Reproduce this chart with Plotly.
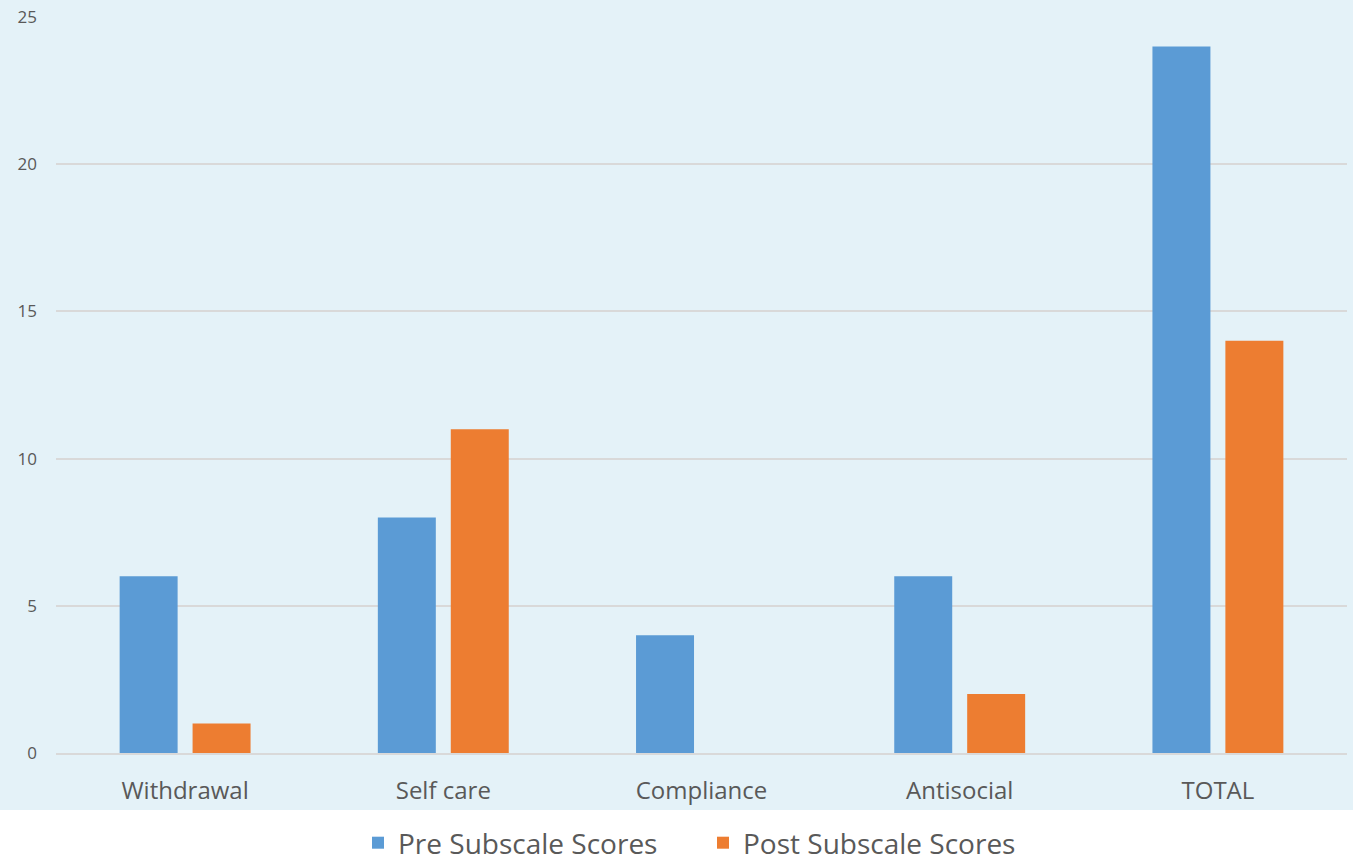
import plotly.graph_objects as go

categories = ["Withdrawal", "Self care", "Compliance", "Antisocial", "TOTAL"]
pre_scores = [6, 8, 4, 6, 24]
post_scores = [1, 11, 0, 2, 14]
y_ticks = [0, 5, 10, 15, 20, 25]

W, H = 1353, 861
ML, MR, MT, MB = 56, 6, 17, 108
plot_w = W - ML - MR
plot_h = H - MT - MB

BG = "#E4F2F8"
TEXT = "#595959"
GRID = "#D9D9D9"

fig = go.Figure()
fig.add_trace(go.Bar(name="Pre Subscale Scores", x=categories, y=pre_scores,
                     marker=dict(color="#5B9BD5", line=dict(width=0))))
fig.add_trace(go.Bar(name="Post Subscale Scores", x=categories, y=post_scores,
                     marker=dict(color="#ED7D31", line=dict(width=0))))

# light blue panel behind the plot area and category labels
fig.add_shape(type="rect", xref="paper", yref="paper", layer="below",
              x0=-ML / plot_w, x1=1 + MR / plot_w,
              y0=-(810 - (H - MB)) / plot_h, y1=1 + MT / plot_h,
              fillcolor=BG, line=dict(width=0))

fig.update_layout(
    width=W, height=H,
    margin=dict(l=ML, r=MR, t=MT, b=MB, autoexpand=False),
    paper_bgcolor="white", plot_bgcolor="rgba(0,0,0,0)",
    barmode="group", bargap=0.435, bargroupgap=0.205,
    font=dict(family="Open Sans", color=TEXT),
    showlegend=True,
    legend=dict(orientation="h", xanchor="center", x=0.5196, xref="container",
                yanchor="middle", y=-(843 - (H - MB)) / plot_h, yref="paper",
                entrywidth=300, entrywidthmode="pixels",
                font=dict(size=28, color=TEXT), bgcolor="rgba(0,0,0,0)"),
    hovermode=False,
)
fig.update_xaxes(showgrid=False, showline=True, linecolor=GRID, linewidth=1.5,
                 tickfont=dict(size=24, color=TEXT), ticks="", ticklabelstandoff=15)
fig.update_yaxes(range=[0, 25], tickvals=y_ticks, showgrid=True, gridcolor=GRID,
                 gridwidth=1.5, zeroline=False, showline=False,
                 tickfont=dict(size=17, color=TEXT), ticks="", ticklabelstandoff=18)

fig.write_html("out.html")
